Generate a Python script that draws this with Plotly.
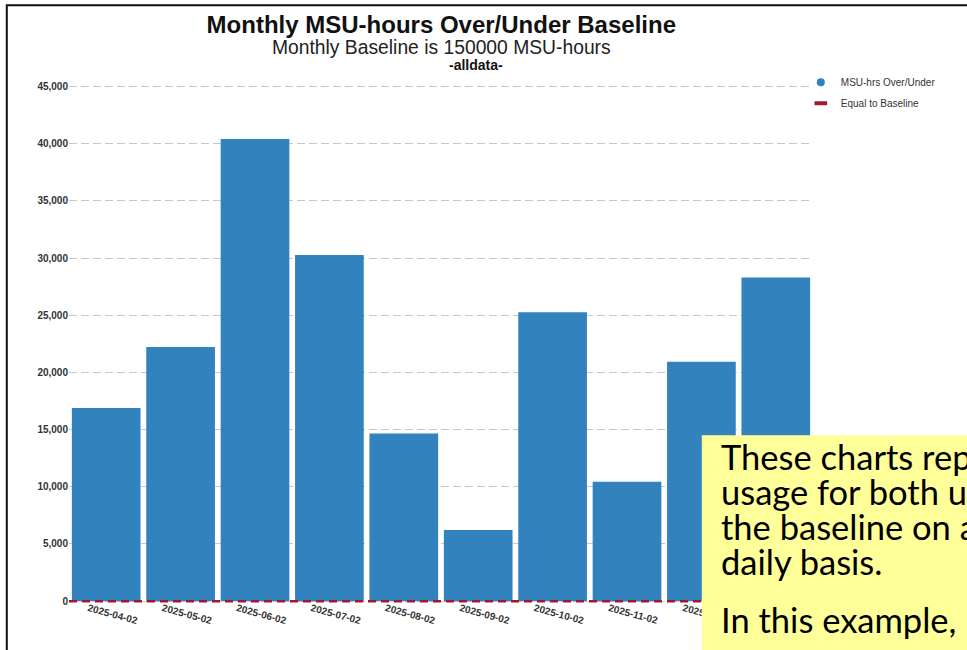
import plotly.graph_objects as go

# ---- data ----
months = ["2025-04-02", "2025-05-02", "2025-06-02", "2025-07-02", "2025-08-02",
          "2025-09-02", "2025-10-02", "2025-11-02", "2025-12-02", "2026-01-02"]
msu_over_under = [16890, 22220, 40400, 30260, 14650, 6230, 25250, 10440, 20940, 28290]
baseline_diff = 0
y_ticks = [0, 5000, 10000, 15000, 20000, 25000, 30000, 35000, 40000, 45000]

title_text = "Monthly MSU-hours Over/Under Baseline"
subtitle_text = "Monthly Baseline is 150000 MSU-hours"
tag_text = "-alldata-"
callout_lines = ["These charts rep", "usage for both u", "the baseline on a", "daily basis.", "In this example,"]

# ---- layout geometry ----
W, H = 967, 650
ML, MR, MT, MB = 69.2, 153.8, 82.7, 42.2
PW, PH = W - ML - MR, H - MT - MB


def px_x(px):
    return (px - ML) / PW


def px_y(py):
    return 1 - (py - MT) / PH


FONT = "Arial, Liberation Sans, sans-serif"
BAR_COLOR = "#3182bd"
RED = "#a3182e"

fig = go.Figure()
fig.add_trace(go.Bar(x=months, y=msu_over_under, marker=dict(color=BAR_COLOR, line=dict(width=0)),
                     showlegend=False, name="MSU-hrs Over/Under"))
# legend entries
fig.add_trace(go.Scatter(x=[None], y=[None], mode="markers", name="MSU-hrs Over/Under",
                         marker=dict(symbol="circle", size=8, color=BAR_COLOR), legendgroup="a"))
fig.add_trace(go.Scatter(x=[None], y=[None], mode="markers", name="Equal to Baseline",
                         marker=dict(symbol="line-ew", size=9, color=RED, line=dict(color=RED, width=4)),
                         legendgroup="b"))

shapes = [
    # baseline (equal to baseline) reference line
    dict(type="line", xref="paper", yref="y", x0=0, x1=1, y0=baseline_diff, y1=baseline_diff,
         line=dict(color=RED, width=2.5, dash="8px,5px"), layer="above"),
    # slide frame
    dict(type="rect", xref="paper", yref="paper", x0=px_x(7), x1=px_x(990), y0=px_y(5), y1=px_y(680),
         line=dict(color="#111111", width=2), fillcolor="rgba(0,0,0,0)", layer="above"),
    # callout box
    dict(type="rect", xref="paper", yref="paper", x0=px_x(702), x1=px_x(990), y0=px_y(435), y1=px_y(690),
         line=dict(width=0), fillcolor="#FFFF99", layer="above"),
]

annotations = [
    dict(text=subtitle_text, xref="paper", yref="paper",
         x=px_x(442), y=px_y(47.5), xanchor="center", yanchor="middle", showarrow=False,
         font=dict(family=FONT, size=19.3, color="#222222")),
    dict(text="<b>" + tag_text + "</b>", xref="paper", yref="paper",
         x=px_x(476), y=px_y(65), xanchor="center", yanchor="middle", showarrow=False,
         font=dict(family=FONT, size=14, color="#111111")),
]
baselines = [470, 505, 540, 575, 633]
for line, bl in zip(callout_lines, baselines):
    annotations.append(dict(text=line, xref="paper", yref="paper", x=px_x(719), y=px_y(bl - 14),
                            xanchor="left", yanchor="middle", showarrow=False,
                            font=dict(family="Lato, Carlito, sans-serif", size=34.5, color="#000000")))

fig.update_layout(
    width=W, height=H,
    margin=dict(l=ML, r=MR, t=MT, b=MB, autoexpand=False),
    paper_bgcolor="white", plot_bgcolor="white",
    title=dict(text="<b>" + title_text + "</b>", x=px_x(441.5), xref="paper", xanchor="center",
               y=1 - 24.5 / H, yref="container", yanchor="middle",
               font=dict(family=FONT, size=24, color="#111111")),
    bargap=0.077,
    showlegend=True,
    legend=dict(x=px_x(801), y=px_y(67.5), xanchor="left", yanchor="top", bgcolor="rgba(0,0,0,0)",
                font=dict(family=FONT, size=10, color="#333333"), tracegroupgap=2, traceorder="grouped"),
    xaxis=dict(type="category", showgrid=False, zeroline=False, showline=False,
               ticks="", tickangle=15, ticklabelshift=-18, ticklabelstandoff=-8,
               tickfont=dict(family=FONT, size=10, color="#333333", weight="bold")),
    yaxis=dict(range=[-600, 45300], tickvals=y_ticks, tickformat=",", showgrid=True,
               gridcolor="#c8c8c8", gridwidth=1, griddash="8px,4px", zeroline=False, showline=False,
               ticks="", tickfont=dict(family=FONT, size=10, color="#333333", weight="bold")),
    shapes=shapes,
    annotations=annotations,
)

fig.write_html("out.html", config={"displayModeBar": False},
               post_script="document.body.style.margin='0';")
